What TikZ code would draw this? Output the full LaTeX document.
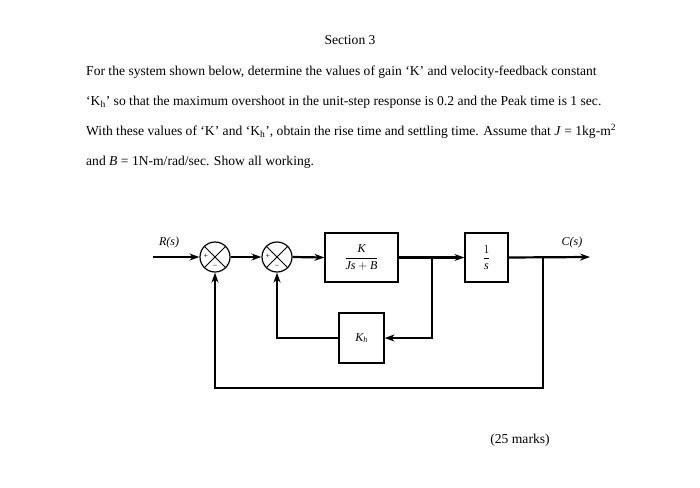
\documentclass[tikz,border=0pt]{standalone}
\usepackage{amsmath}
\usepackage{fontspec}
\setmainfont{Liberation Serif}
\usetikzlibrary{arrows.meta}
\begin{document}
\begin{tikzpicture}[x=1pt,y=-1pt,
  txt/.style={anchor=west,inner sep=0pt,font=\fontsize{13.6}{16}\selectfont},
  blk/.style={draw,line width=1.2pt,inner sep=0pt,font=\fontsize{12}{14}\selectfont},
  sig/.style={line width=2.2pt,-{Stealth[length=10pt,width=7pt]}},
  sumc/.style={draw,circle,line width=1.2pt,minimum size=30pt,inner sep=0pt}]
\useasboundingbox (0,0) rectangle (700,487);
\node[font=\fontsize{13.6}{16}\selectfont] (title) at (350,40) {Section 3};
\node[txt] (l1) at (86,72) {For the system shown below, determine the values of gain `K' and velocity-feedback constant};
\node[txt] (l2) at (86,102) {`K\textsubscript{h}' so that the maximum overshoot in the unit-step response is 0.2 and the Peak time is 1 sec.};
\node[txt] (l3) at (86,131) {With these values of `K' and `K\textsubscript{h}', obtain the rise time and settling time. Assume that \textit{J} = 1kg-m\textsuperscript{2}};
\node[txt] (l4) at (86,162) {and \textit{B} = 1N-m/rad/sec. Show all working.};
\node[font=\fontsize{13.6}{16}\selectfont] (marks) at (520,440) {(25 marks)};
% diagram
\coordinate (in) at (153,257);
\node[sumc] (s1) at (215,257) {};
\node[sumc] (s2) at (277,257) {};
\foreach \s in {s1,s2}{
  \draw[line width=0.9pt] (\s.north west) -- (\s.south east) (\s.north east) -- (\s.south west);
  \node[font=\fontsize{8}{8}\selectfont,inner sep=0pt] at ([xshift=-9pt,yshift=1pt]\s.center) {+};
  \node[font=\fontsize{8}{8}\selectfont,inner sep=0pt] at ([yshift=-9pt]\s.center) {--};}
\node[blk,minimum width=73pt,minimum height=49pt] (G) at (361.5,257.5) {$\dfrac{\textit{K}}{\textit{Js} + \textit{B}}$};
\node[blk,minimum width=43pt,minimum height=49pt] (I) at (486.5,257.5) {$\dfrac{1}{\textit{s}}$};
\node[blk,minimum width=45pt,minimum height=50pt] (H) at (361.5,338) {\textit{K\textsubscript{h}}};
\coordinate (b1) at (432,257);
\coordinate (b2) at (543,257);
\coordinate (out) at (590,257);
\coordinate (b1d) at (432,338);
\coordinate (h2) at (277,338);
\coordinate (b2d) at (543,388);
\coordinate (s1d) at (215,388);
\node[font=\fontsize{12}{14}\selectfont\itshape] (R) at (169,243) {R(s)};
\node[font=\fontsize{12}{14}\selectfont\itshape] (C) at (572,243) {C(s)};
\draw[sig] (in) -- (s1.west);
\draw[sig] (s1.east) -- (s2.west);
\draw[sig] (s2.east) -- (G.west);
\draw[sig] (G.east) -- (I.west);
\draw[sig] (I.east) -- (out);
\draw[sig] (b1) -- (b1d) -- (H.east);
\draw[sig] (H.west) -- (h2) -- (s2.south);
\draw[sig] (b2) -- (b2d) -- (s1d) -- (s1.south);
\end{tikzpicture}
\end{document}
